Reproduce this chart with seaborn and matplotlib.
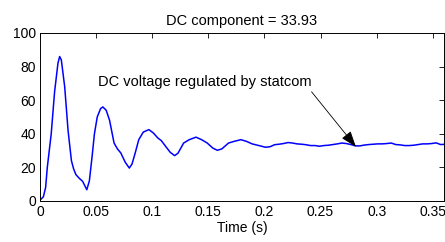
import matplotlib
matplotlib.use("Agg")
import matplotlib.pyplot as plt
import seaborn as sns
import pandas as pd

time_s = [0.000, 0.003, 0.005, 0.0065, 0.010, 0.013, 0.016, 0.0175, 0.019, 0.022,
          0.025, 0.028, 0.030, 0.032, 0.035, 0.038, 0.0417, 0.044, 0.0465, 0.0485,
          0.051, 0.054, 0.056, 0.059, 0.062, 0.066, 0.069, 0.072, 0.076, 0.0796,
          0.082, 0.085, 0.088, 0.092, 0.097, 0.101, 0.105, 0.108, 0.112, 0.116,
          0.120, 0.123, 0.128, 0.133, 0.139, 0.144, 0.149, 0.154, 0.158, 0.162,
          0.168, 0.173, 0.179, 0.184, 0.189, 0.195, 0.201, 0.205, 0.209, 0.213,
          0.217, 0.221, 0.225, 0.229, 0.233, 0.237, 0.241, 0.245, 0.249, 0.253,
          0.257, 0.261, 0.265, 0.269, 0.273, 0.277, 0.281, 0.285, 0.289, 0.293,
          0.297, 0.301, 0.305, 0.309, 0.313, 0.317, 0.321, 0.325, 0.329, 0.333,
          0.337, 0.341, 0.345, 0.349, 0.353, 0.357, 0.362]
dc_voltage = [0.5, 2.5, 8, 20, 40, 65, 82, 86, 84, 68,
              42, 24, 19, 15.7, 13.5, 11.7, 6.7, 12, 27, 40,
              50, 55, 56, 54, 48, 34.5, 31, 28.6, 23, 19.6,
              22, 29, 36.5, 41, 42.5, 40.5, 37.5, 36, 32.5, 29,
              27, 28.5, 34.5, 36.5, 38, 36.5, 34.5, 31.5, 30.2, 31,
              34.5, 35.5, 36.5, 35.5, 34, 33, 32, 32.3, 33.5, 33.8,
              34.2, 34.8, 34.5, 34, 33.8, 33.5, 33, 33, 32.6, 33,
              33.2, 33.6, 34, 34.5, 34.2, 33.6, 32.8, 32.8, 33.3, 33.6,
              33.8, 34, 34, 34.2, 34.5, 33.6, 33.4, 33, 33, 33.2,
              33.6, 34, 34, 34.2, 34.6, 33.6, 33.8]

x_ticks = [0, 0.05, 0.1, 0.15, 0.2, 0.25, 0.3, 0.35]
x_tick_labels = ["0", "0.05", "0.1", "0.15", "0.2", "0.25", "0.3", "0.35"]
y_ticks = [0, 20, 40, 60, 80, 100]

df = pd.DataFrame({"t": time_s, "v": dc_voltage})

sns.set_theme(style="white")
plt.rcParams["font.family"] = ["Liberation Sans", "DejaVu Sans"]

fig = plt.figure(figsize=(4.45, 2.42), dpi=100)
ax = fig.add_axes([40 / 445, 1 - 201 / 242, 404 / 445, 168 / 242])
sns.lineplot(data=df, x="t", y="v", ax=ax, color="#0000ff", linewidth=1.1)

ax.set_xlim(0, 0.36)
ax.set_ylim(0, 100)
ax.set_xticks(x_ticks)
ax.set_xticklabels(x_tick_labels)
ax.set_yticks(y_ticks)
ax.tick_params(direction="in", length=3.5, width=0.6, top=True, right=True,
               labelsize=10, colors="black", pad=3)
for s in ax.spines.values():
    s.set_color("black")
    s.set_linewidth(0.7)
ax.set_xlabel("Time (s)", fontsize=10, labelpad=1, color="black")
ax.set_ylabel("")
ax.set_title("DC component = 33.93", fontsize=10.5, pad=6, color="black")

ax.text(0.0515, 71, "DC voltage regulated by statcom", fontsize=10.5,
        ha="left", va="center", color="black")
ax.annotate("", xy=(0.2815, 32.3), xytext=(0.242, 65),
            arrowprops=dict(arrowstyle="-|>,head_length=0.7,head_width=0.25",
                            color="black", lw=0.6,
                            mutation_scale=14, shrinkA=0, shrinkB=0))

fig.savefig("out.png", dpi=100, facecolor="white")
